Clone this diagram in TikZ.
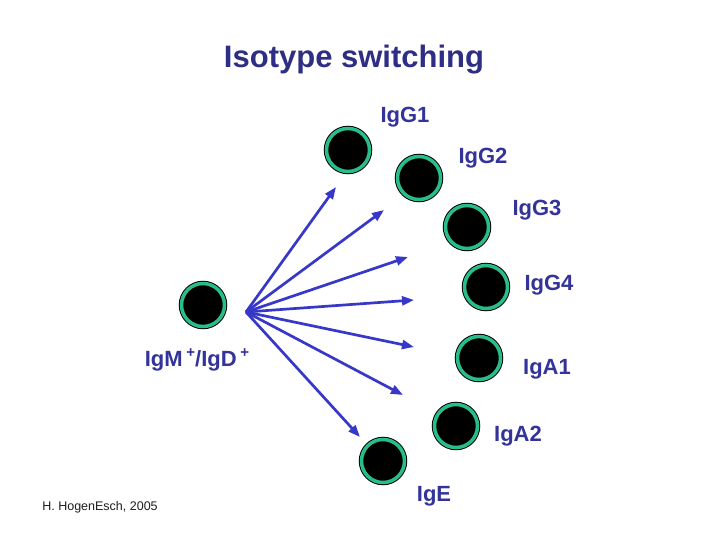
\documentclass[tikz,border=0pt]{standalone}
\usepackage{fontspec}
\setmainfont{Liberation Sans}
\usetikzlibrary{arrows.meta}
\definecolor{cellgreen}{RGB}{40,190,140}
\definecolor{labelblue}{RGB}{51,51,153}
\definecolor{titleblue}{RGB}{46,46,133}
\definecolor{arrowblue}{RGB}{56,56,200}
\definecolor{credit}{RGB}{30,30,30}
\newcommand{\supplus}{\raisebox{0.38em}{\fontsize{15}{15}\selectfont +}}
\begin{document}
\begin{tikzpicture}[x=1pt,y=-1pt,
  cell/.style={circle, minimum size=43pt, inner sep=0pt, fill=black,
    draw=cellgreen, line width=3.5pt,
    preaction={draw=black, line width=5.5pt}},
  lbl/.style={anchor=base, inner sep=0pt, text=labelblue,
    font=\fontsize{22}{24}\selectfont\bfseries},
  switcharrow/.style={draw=arrowblue, line width=2.7pt,
    -{Triangle[length=12pt,width=9pt]}}
]
\useasboundingbox[fill=white] (0,0) rectangle (720,540);

% title
\node[anchor=base, inner sep=0pt, text=titleblue,
  font=\fontsize{31}{34}\selectfont\bfseries] (title) at (354,68) {Isotype switching};

% cells
\node[cell] (igm) at (203,305) {};
\node[cell] (g1) at (348,150) {};
\node[cell] (g2) at (419,178) {};
\node[cell] (g3) at (467,227) {};
\node[cell] (g4) at (486,287) {};
\node[cell] (a1) at (479,358) {};
\node[cell] (a2) at (456,426) {};
\node[cell] (e) at (383,461) {};

% labels
\node[lbl] (lg1) at (405,123) {IgG1};
\node[lbl] (lg2) at (483,164) {IgG2};
\node[lbl] (lg3) at (537,215) {IgG3};
\node[lbl] (lg4) at (549,290) {IgG4};
\node[lbl] (la1) at (547,374) {IgA1};
\node[lbl] (la2) at (518,441) {IgA2};
\node[lbl] (le) at (434,501) {IgE};
\node[lbl] (lm) at (197,366) {IgM\,\supplus/IgD\,\supplus};

% credit
\node[anchor=base, inner sep=0pt, text=credit,
  font=\fontsize{12.5}{14}\selectfont] (cr) at (100,510) {H. HogenEsch, 2005};

% arrows
\coordinate (src) at (246,312);
\coordinate (t1) at (336,187);
\coordinate (t2) at (384,210);
\coordinate (t3) at (408,257);
\coordinate (t4) at (414,300);
\coordinate (t5) at (414,347);
\coordinate (t6) at (403,395);
\coordinate (t7) at (360,437);
\foreach \t in {t1,t2,t3,t4,t5,t6,t7}
  \draw[switcharrow] (src) -- (\t);
\end{tikzpicture}
\end{document}
